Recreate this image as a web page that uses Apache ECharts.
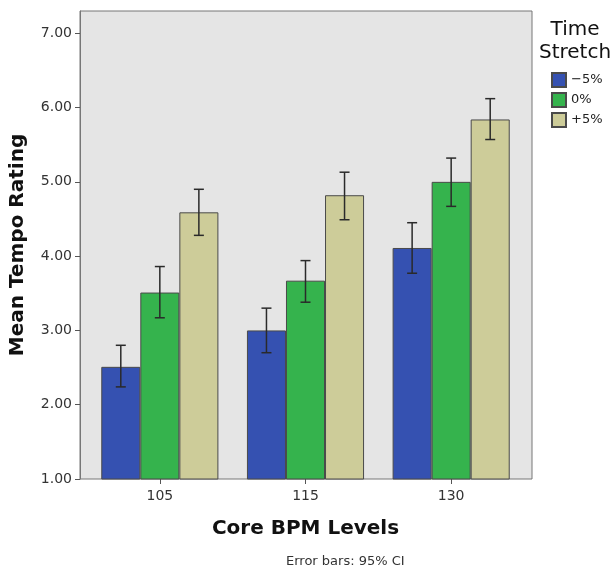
<!DOCTYPE html>
<html>
<head>
<meta charset="utf-8">
<script src="https://cdn.jsdelivr.net/npm/echarts@6/dist/echarts.min.js"></script>
<style>html,body{margin:0;padding:0;background:#fff;}#c{width:616px;height:573px;}</style>
</head>
<body>
<div id="c"></div>
<script>
const categories = ['105', '115', '130'];
const seriesNames = ['\u22125%', '0%', '+5%'];
const meanMinus5 = [2.51, 3.00, 4.11];
const meanZero = [3.51, 3.67, 5.00];
const meanPlus5 = [4.59, 4.82, 5.84];
const ciLowMinus5 = [2.24, 2.70, 3.77];
const ciHighMinus5 = [2.80, 3.30, 4.45];
const ciLowZero = [3.17, 3.38, 4.67];
const ciHighZero = [3.86, 3.94, 5.32];
const ciLowPlus5 = [4.28, 4.49, 5.57];
const ciHighPlus5 = [4.90, 5.13, 6.12];
const yTicks = [1, 2, 3, 4, 5, 6, 7];

const FONT = 'DejaVu Sans';
const colors = ['#3551b1', '#35b34d', '#cdcc99'];
const means = [meanMinus5, meanZero, meanPlus5];
const lows = [ciLowMinus5, ciLowZero, ciLowPlus5];
const highs = [ciHighMinus5, ciHighZero, ciHighPlus5];
const BAR_FRAC = 0.268;

const chart = echarts.init(document.getElementById('c'), null, {renderer: 'canvas'});

const series = [];
means.forEach((arr, k) => {
  series.push({
    name: seriesNames[k], type: 'bar', xAxisIndex: 1, yAxisIndex: 1,
    data: arr, barWidth: (BAR_FRAC * 100) + '%', barGap: '0%',
    itemStyle: {color: colors[k], borderColor: '#4a4a4a', borderWidth: 1},
    emphasis: {disabled: true}, z: 2
  });
});
means.forEach((arr, k) => {
  series.push({
    type: 'custom', xAxisIndex: 1, yAxisIndex: 1, z: 5,
    data: categories.map((c, i) => [i, lows[k][i], highs[k][i]]),
    renderItem: function (params, api) {
      const i = api.value(0);
      const bw = api.size([1, 0])[0];
      const off = (k - 1) * bw * BAR_FRAC;
      const top = api.coord([i, api.value(2)]);
      const bot = api.coord([i, api.value(1)]);
      const x = top[0] + off;
      const cap = 5;
      const st = {stroke: '#2a2a2a', lineWidth: 1.5};
      return {type: 'group', children: [
        {type: 'line', shape: {x1: x, y1: top[1], x2: x, y2: bot[1]}, style: st},
        {type: 'line', shape: {x1: x - cap, y1: top[1], x2: x + cap, y2: top[1]}, style: st},
        {type: 'line', shape: {x1: x - cap, y1: bot[1], x2: x + cap, y2: bot[1]}, style: st}
      ]};
    }
  });
});

chart.setOption({
  animation: false,
  textStyle: {fontFamily: FONT},
  title: {
    text: 'Time\nStretch', left: 575, top: 18, padding: 0, textAlign: 'center',
    textStyle: {fontFamily: FONT, fontSize: 20, fontWeight: 'normal', lineHeight: 23, color: '#111'}
  },
  legend: {
    data: seriesNames, orient: 'vertical', left: 551, top: 72, padding: 0,
    icon: 'rect', itemWidth: 14, itemHeight: 14, itemGap: 4, selectedMode: false,
    textStyle: {fontFamily: FONT, fontSize: 13, color: '#222'}
  },
  grid: [
    {left: 80, right: 84, top: 11, bottom: 94, show: true, backgroundColor: '#e5e5e5',
     borderColor: '#777', borderWidth: 1, containLabel: false},
    {left: 87, right: 92, top: 11, bottom: 94, containLabel: false}
  ],
  xAxis: [
    {gridIndex: 0, type: 'value', show: false, min: 0, max: 1},
    {gridIndex: 1, type: 'category', data: categories,
     axisLine: {show: false},
     axisTick: {show: true, alignWithLabel: true, length: 5, lineStyle: {color: '#555'}},
     axisLabel: {fontFamily: FONT, fontSize: 14, color: '#333', margin: 10},
     name: 'Core BPM Levels', nameLocation: 'middle', nameGap: 40,
     nameTextStyle: {fontFamily: FONT, fontSize: 20, fontWeight: 'bold', color: '#111'}}
  ],
  yAxis: [
    {gridIndex: 0, type: 'value', min: 1, max: 7.3,
     axisLine: {show: true, lineStyle: {color: '#777'}},
     axisTick: {show: true, length: 5, customValues: yTicks, lineStyle: {color: '#555'}},
     axisLabel: {fontFamily: FONT, fontSize: 14, color: '#333', margin: 8, customValues: yTicks,
                 formatter: v => v.toFixed(2)},
     splitLine: {show: false},
     name: 'Mean Tempo Rating', nameLocation: 'middle', nameGap: 52, nameRotate: 90,
     nameTextStyle: {fontFamily: FONT, fontSize: 20, fontWeight: 'bold', color: '#111'}},
    {gridIndex: 1, type: 'value', min: 1, max: 7.3, show: false, splitLine: {show: false}}
  ],
  graphic: [
    {type: 'text', left: 286, top: 555,
     style: {text: 'Error bars: 95% CI', font: '13px "DejaVu Sans"', fill: '#333'}}
  ],
  series: series
});
</script>
</body>
</html>
